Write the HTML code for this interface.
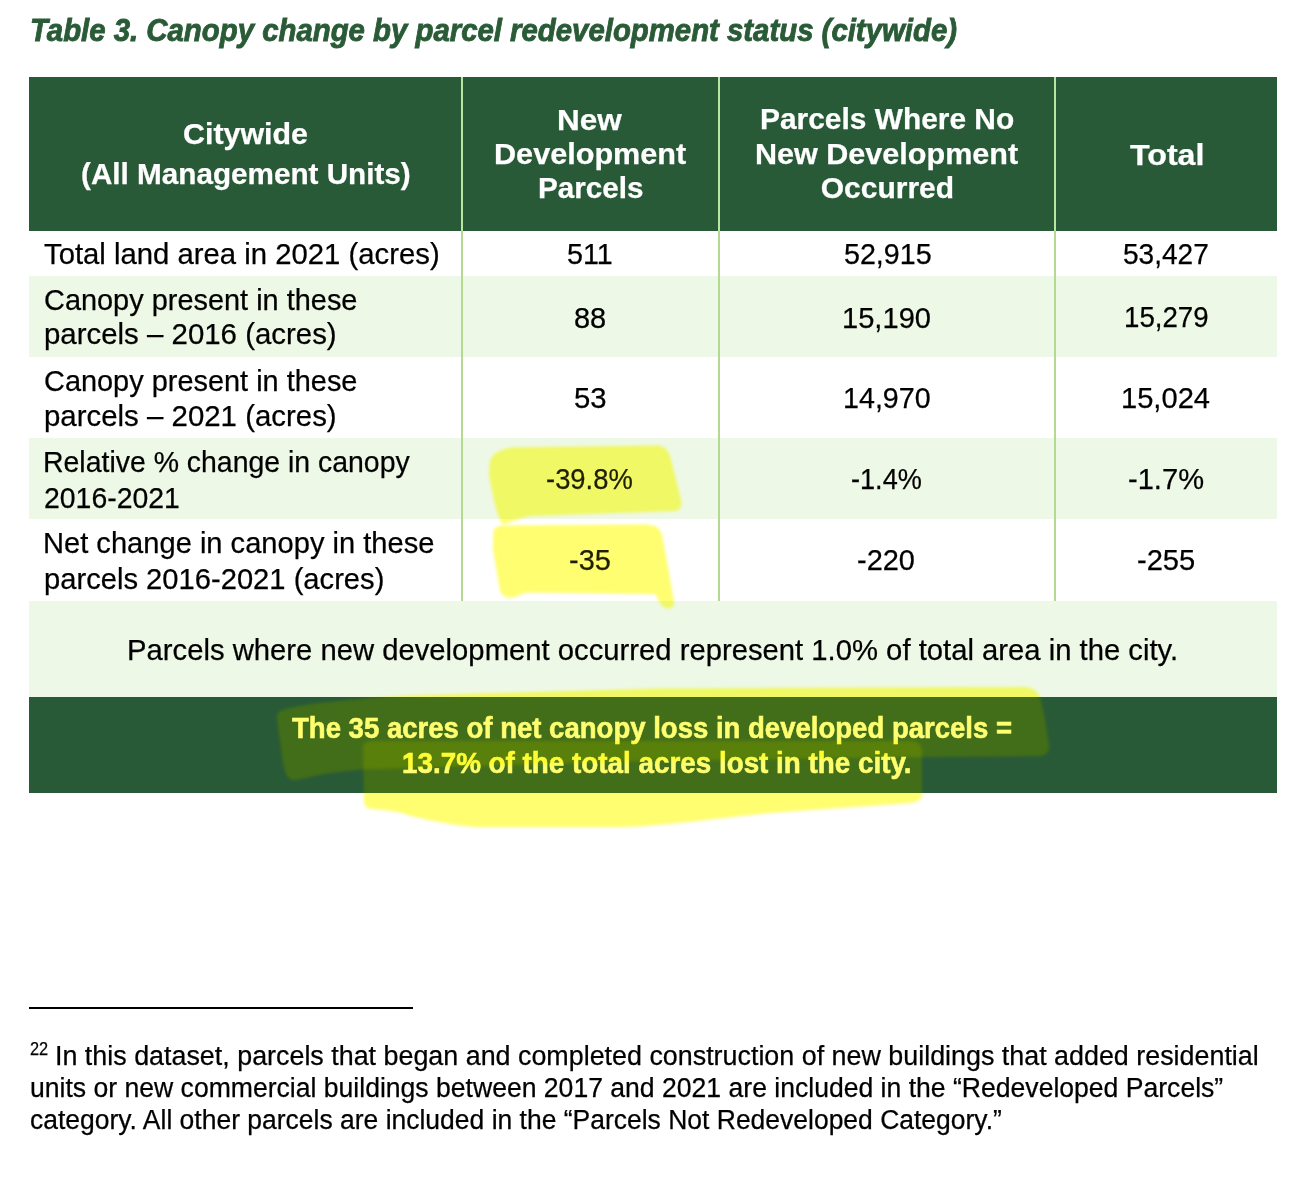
<!DOCTYPE html>
<html><head><meta charset="utf-8"><title>Table 3. Canopy change by parcel redevelopment status</title>
<style>
html,body{margin:0;padding:0;background:#fff;}
body{width:1304px;height:1178px;position:relative;overflow:hidden;font-family:"Liberation Sans",sans-serif;color:#000;}
.t{position:absolute;white-space:nowrap;line-height:1;transform-origin:0 0;-webkit-text-stroke:0.25px currentColor;}
.tt{-webkit-text-stroke:0.9px currentColor;}
.tb{-webkit-text-stroke:0.6px currentColor;}
.r{position:absolute;}
.hl{position:absolute;left:0;top:0;mix-blend-mode:multiply;pointer-events:none;}
.hl2{position:absolute;left:0;top:0;pointer-events:none;}
</style></head><body>
<!-- header -->
<div class="r" style="left:29px;top:77px;width:1248px;height:154px;background:#285a37"></div>
<!-- rows -->
<div class="r" style="left:29px;top:276px;width:1248px;height:81px;background:#eef8e6"></div>
<div class="r" style="left:29px;top:438px;width:1248px;height:81px;background:#eef8e6"></div>
<div class="r" style="left:29px;top:601px;width:1248px;height:96px;background:#eef8e6"></div>
<div class="r" style="left:29px;top:697px;width:1248px;height:96px;background:#285a37"></div>
<!-- column separators -->
<div class="r" style="left:461px;top:77px;width:2px;height:154px;background:#b9e5a0"></div>
<div class="r" style="left:718px;top:77px;width:2px;height:154px;background:#b9e5a0"></div>
<div class="r" style="left:1054px;top:77px;width:2px;height:154px;background:#b9e5a0"></div>
<div class="r" style="left:461px;top:231px;width:2px;height:370px;background:#b5d993"></div>
<div class="r" style="left:718px;top:231px;width:2px;height:370px;background:#b5d993"></div>
<div class="r" style="left:1054px;top:231px;width:2px;height:370px;background:#b5d993"></div>
<!-- footnote rule -->
<div class="r" style="left:29px;top:1007px;width:384px;height:2px;background:#000"></div>
<div class="t tt" style="left:29.67px;top:14.00px;font-size:32px;font-weight:700;font-style:italic;color:#2a5b37;transform:scaleX(0.9172);">Table 3. Canopy change by parcel redevelopment status (citywide)</div>
<div class="t" style="left:182.79px;top:119.00px;font-size:30px;font-weight:700;color:#fff;transform:scaleX(1.0126);">Citywide</div>
<div class="t" style="left:80.91px;top:159.00px;font-size:30px;font-weight:700;color:#fff;transform:scaleX(0.9892);">(All Management Units)</div>
<div class="t" style="left:557.20px;top:105.00px;font-size:30px;font-weight:700;color:#fff;transform:scaleX(1.0489);">New</div>
<div class="t" style="left:493.96px;top:139.00px;font-size:30px;font-weight:700;color:#fff;transform:scaleX(1.0204);">Development</div>
<div class="t" style="left:537.92px;top:173.00px;font-size:30px;font-weight:700;color:#fff;transform:scaleX(0.9887);">Parcels</div>
<div class="t" style="left:759.91px;top:104.00px;font-size:30px;font-weight:700;color:#fff;transform:scaleX(0.9965);">Parcels Where No</div>
<div class="t" style="left:755.26px;top:139.00px;font-size:30px;font-weight:700;color:#fff;transform:scaleX(1.0183);">New Development</div>
<div class="t" style="left:820.70px;top:173.00px;font-size:30px;font-weight:700;color:#fff;">Occurred</div>
<div class="t" style="left:1129.50px;top:140.00px;font-size:30px;font-weight:700;color:#fff;transform:scaleX(1.0720);">Total</div>
<div class="t" style="left:44.30px;top:239.00px;font-size:30px;transform:scaleX(0.9764);">Total land area in 2021 (acres)</div>
<div class="t" style="left:566.74px;top:239.00px;font-size:30px;transform:scaleX(0.9557);">511</div>
<div class="t" style="left:843.65px;top:239.00px;font-size:30px;transform:scaleX(0.9548);">52,915</div>
<div class="t" style="left:1123.27px;top:239.00px;font-size:30px;transform:scaleX(0.9348);">53,427</div>
<div class="t" style="left:43.54px;top:285.00px;font-size:30px;transform:scaleX(0.9638);">Canopy present in these</div>
<div class="t" style="left:43.52px;top:319.00px;font-size:30px;transform:scaleX(0.9805);">parcels – 2016 (acres)</div>
<div class="t" style="left:573.73px;top:303.00px;font-size:30px;transform:scaleX(0.9658);">88</div>
<div class="t" style="left:842.36px;top:303.00px;font-size:30px;transform:scaleX(0.9700);">15,190</div>
<div class="t" style="left:1123.96px;top:302.00px;font-size:30px;transform:scaleX(0.9217);">15,279</div>
<div class="t" style="left:43.54px;top:366.00px;font-size:30px;transform:scaleX(0.9638);">Canopy present in these</div>
<div class="t" style="left:43.52px;top:401.00px;font-size:30px;transform:scaleX(0.9805);">parcels – 2021 (acres)</div>
<div class="t" style="left:574.42px;top:383.00px;font-size:30px;transform:scaleX(0.9752);">53</div>
<div class="t" style="left:842.69px;top:383.00px;font-size:30px;transform:scaleX(0.9554);">14,970</div>
<div class="t" style="left:1121.36px;top:383.00px;font-size:30px;transform:scaleX(0.9700);">15,024</div>
<div class="t" style="left:42.60px;top:447.00px;font-size:30px;transform:scaleX(0.9478);">Relative % change in canopy</div>
<div class="t" style="left:43.55px;top:483.00px;font-size:30px;transform:scaleX(0.9472);">2016-2021</div>
<div class="t" style="left:546.49px;top:464.00px;font-size:30px;transform:scaleX(0.9135);">-39.8%</div>
<div class="t" style="left:850.80px;top:464.00px;font-size:30px;transform:scaleX(0.9036);">-1.4%</div>
<div class="t" style="left:1128.33px;top:464.00px;font-size:30px;transform:scaleX(0.9700);">-1.7%</div>
<div class="t" style="left:43.06px;top:528.00px;font-size:30px;transform:scaleX(0.9698);">Net change in canopy in these</div>
<div class="t" style="left:43.53px;top:564.00px;font-size:30px;transform:scaleX(0.9719);">parcels 2016-2021 (acres)</div>
<div class="t" style="left:569.04px;top:545.00px;font-size:30px;transform:scaleX(0.9646);">-35</div>
<div class="t" style="left:857.24px;top:545.00px;font-size:30px;transform:scaleX(0.9647);">-220</div>
<div class="t" style="left:1137.23px;top:545.00px;font-size:30px;transform:scaleX(0.9700);">-255</div>
<div class="t" style="left:126.95px;top:635.00px;font-size:30px;transform:scaleX(0.9748);">Parcels where new development occurred represent 1.0% of total area in the city.</div>
<div class="t tb" style="left:292.20px;top:713.00px;font-size:30px;font-weight:700;color:#fff;transform:scaleX(0.9179);">The 35 acres of net canopy loss in developed parcels =</div>
<div class="t tb" style="left:402.27px;top:748.00px;font-size:30px;font-weight:700;color:#fff;transform:scaleX(0.9272);">13.7% of the total acres lost in the city.</div>
<div class="t" style="left:29.80px;top:1040.00px;font-size:18px;transform:scaleX(0.9095);">22</div>
<div class="t" style="left:55.21px;top:1043.00px;font-size:27px;transform:scaleX(0.9950);">In this dataset, parcels that began and completed construction of new buildings that added residential</div>
<div class="t" style="left:29.72px;top:1075.00px;font-size:27px;transform:scaleX(0.9839);">units or new commercial buildings between 2017 and 2021 are included in the “Redeveloped Parcels”</div>
<div class="t" style="left:29.72px;top:1107.00px;font-size:27px;transform:scaleX(0.9806);">category. All other parcels are included in the “Parcels Not Redeveloped Category.”</div>
<svg width="0" height="0" style="position:absolute"><defs>
<filter id="bl" x="-5%" y="-20%" width="110%" height="140%"><feGaussianBlur stdDeviation="1.7"/></filter>
<path id="h1" d="M490 462 C491 455 498 450 512 447.5 L655 445.5 C663 445.5 667 448 670 456 L681 500 C682 507 680 510 675 511 L530 516 C520 518 512 521 503 524.5 C498 518 495 505 492 490 L489 475 Z"/>
<path id="h2" d="M493.5 532 C494 528 497 526 503 525.5 L645 524.5 C655 524.5 660 528 662 535 L672 590 L674 603 C674 608 670 609 666 608 C661 606 658 600 655.5 594 L527 592.5 C520 594 516 597 513 597.5 C505 598 502 596 500 590 L493 549 Z"/>
<path id="h3" d="M277 719 C277 713 279 711 283 710 C295 706 315 703 330 702 C350 700 380 697 412 695.5 L659 688.5 L1025 687 C1033 688 1037 691 1040 697 L1044 714 L1049 745 C1050 752 1046 755 1040 756 L927 757 L640 761 L363 769.5 C345 771 325 773 314 776 C305 778 298 780 292 780 C287 778 285 772 283 763 Z"/>
<path id="h4" d="M363 746 C364 742 368 741 375 741 L912 741 C920 742 922 746 922 752 L922 795 C921 800 917 802 910 803 L768 813 C720 818 660 826 625 827 L475 827 C450 825 430 820 411 816 C400 812 390 810 372 809 C366 808 364 805 364 800 Z"/>
</defs></svg>
<svg class="hl" width="1304" height="1178"><use href="#h1" fill="#fffe7f" filter="url(#bl)"/></svg>
<svg class="hl" width="1304" height="1178"><use href="#h2" fill="#fffe7f" filter="url(#bl)"/></svg>
<svg class="hl" width="1304" height="1178"><use href="#h3" fill="#fffe7f" filter="url(#bl)"/></svg>
<svg class="hl" width="1304" height="1178"><use href="#h4" fill="#fffe7f" filter="url(#bl)"/></svg>
<svg class="hl2" width="1304" height="1178"><g fill="#ffff00" fill-opacity="0.12" filter="url(#bl)"><use href="#h1"/><use href="#h2"/><use href="#h3"/><use href="#h4"/></g></svg>
</body></html>
